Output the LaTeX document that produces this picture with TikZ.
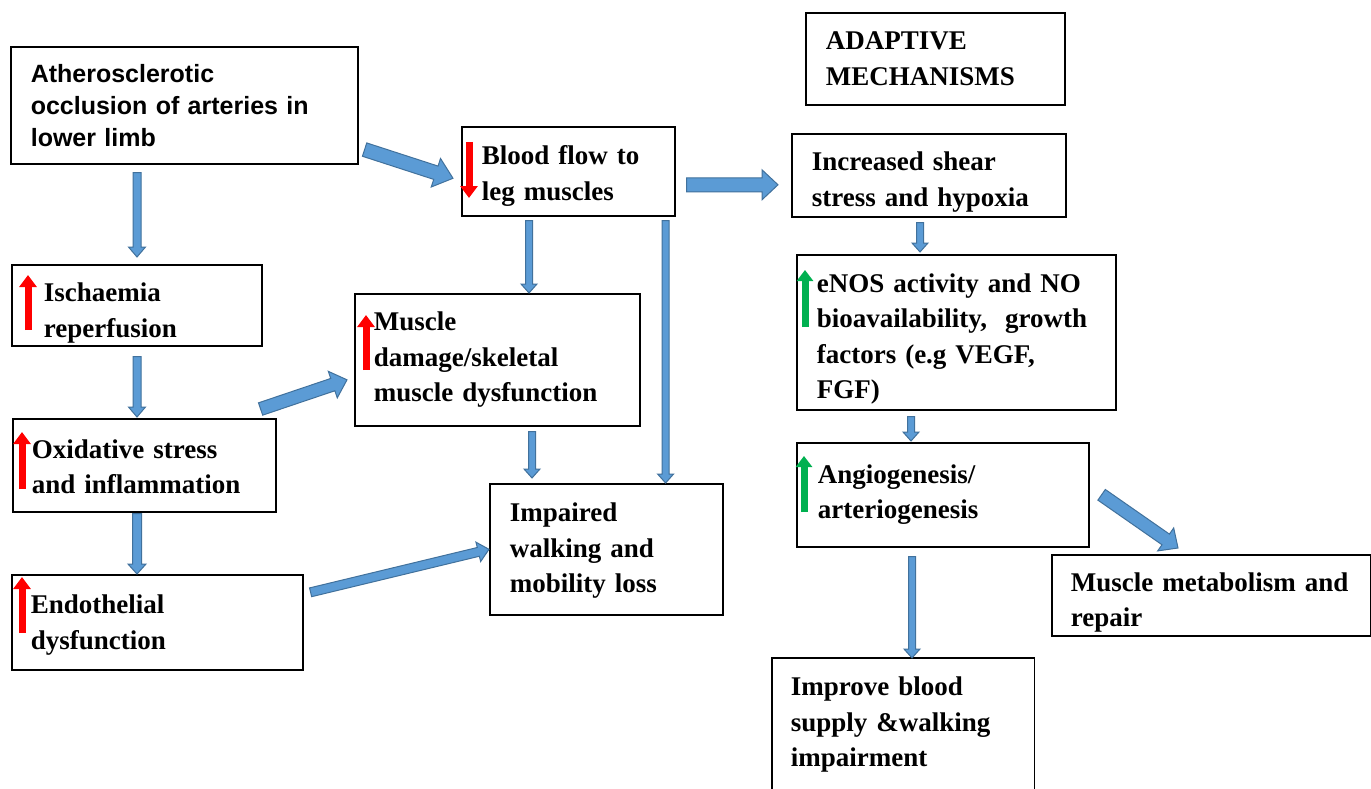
\documentclass[tikz,border=0pt]{standalone}
\usepackage{fontspec}
\setmainfont{Liberation Serif}
\newfontfamily\arialfont{Liberation Sans}
\usetikzlibrary{calc,arrows.meta}
\definecolor{arrfill}{HTML}{5B9BD5}
\definecolor{arrline}{HTML}{41719C}
\definecolor{upred}{HTML}{FF0000}
\definecolor{upgreen}{HTML}{00B050}
% #1 start, #2 end, #3 shaft half width, #4 head half width, #5 head length
\newcommand\fatarrow[5]{%
  \coordinate (fa1) at (#1);
  \coordinate (fa2) at (#2);
  \coordinate (fab) at ($(fa2)!#5!(fa1)$);
  \draw[blockarrow] ($(fa1)!#3!90:(fa2)$) -- ($(fab)!#3!90:(fa2)$) -- ($(fab)!#4!90:(fa2)$) -- (fa2)
     -- ($(fab)!#4!-90:(fa2)$) -- ($(fab)!#3!-90:(fa2)$) -- ($(fa1)!#3!-90:(fa2)$) -- cycle;
}
% invisible strut that lowers a centred text block
\newcommand\lowerby[1]{\rule{0pt}{#1}}
\begin{document}
\begin{tikzpicture}[x=1pt,y=-1pt,
  box/.style={draw=black, line width=1.6pt, rectangle, anchor=north west, align=left,
    font=\bfseries\fontsize{27}{35.5}\selectfont, inner ysep=0pt},
  blockarrow/.style={fill=arrfill, draw=arrline, line width=1pt, line join=miter},
  redup/.style={draw=upred, line width=7pt, -{Triangle[width=17pt,length=12pt]}},
  greenup/.style={draw=upgreen, line width=7pt, -{Triangle[width=16pt,length=11pt]}}
]
\fill[white] (0,0) rectangle (1371,789);
\useasboundingbox (0,0) rectangle (1371,789);

% left column
\node[box, font=\arialfont\bfseries\fontsize{25}{32}\selectfont, minimum width=347pt, minimum height=117pt, text width=307pt, inner xsep=20pt] (athero) at (10,46)
  {Atherosclerotic\\occlusion of arteries in\\lower limb};
\node[box, minimum width=250pt, minimum height=81pt, text width=186pt, inner xsep=32pt] (isch) at (11,264)
  {\lowerby{34pt}Ischaemia\\reperfusion};
\node[box, minimum width=263pt, minimum height=93pt, text width=225pt, inner xsep=19pt] (oxid) at (12,418)
  {\lowerby{22pt}Oxidative stress\\and inflammation};
\node[box, minimum width=291pt, minimum height=95pt, text width=253pt, inner xsep=19pt] (endo) at (11,574)
  {\lowerby{24pt}Endothelial\\dysfunction};

% middle column
\node[box, minimum width=213pt, minimum height=89pt, text width=173pt, inner xsep=20pt] (blood) at (461,126)
  {\lowerby{28pt}Blood flow to\\leg muscles};
\node[box, minimum width=285pt, minimum height=132pt, text width=247pt, inner xsep=19pt] (mdmg) at (354,293)
  {Muscle\\damage/skeletal\\muscle dysfunction};
\node[box, minimum width=233pt, minimum height=131pt, text width=193pt, inner xsep=20pt] (impair) at (489,483)
  {\lowerby{22pt}Impaired\\walking and\\mobility loss};

% right column
\node[box, minimum width=259pt, minimum height=92pt, text width=219pt, inner xsep=20pt] (adapt) at (805,12)
  {ADAPTIVE\\MECHANISMS};
\node[box, minimum width=274pt, minimum height=83pt, text width=234pt, inner xsep=20pt] (shear) at (791,133)
  {\lowerby{32pt}Increased shear\\stress and hypoxia};
\node[box, minimum width=319pt, minimum height=155pt, text width=279pt, inner xsep=20pt] (enos) at (796,254)
  {\lowerby{32pt}eNOS activity and NO\\bioavailability,~ growth\\factors (e.g VEGF,\\FGF)};
\node[box, minimum width=292pt, minimum height=104pt, text width=250pt, inner xsep=21pt] (angio) at (796,442)
  {Angiogenesis/\\arteriogenesis};
\node[box, minimum width=319pt, minimum height=81pt, text width=281pt, inner xsep=19pt] (metab) at (1051,554)
  {\lowerby{33pt}Muscle metabolism and\\repair};
\node[box, draw=none, minimum width=261pt, minimum height=131pt, text width=225pt, inner xsep=18pt] (improve) at (772,658)
  {\lowerby{20pt}Improve blood\\supply \&walking\\impairment};
\draw[line width=1.6pt] ($(improve.south west)+(0,2)$) -- (improve.north west) -- (improve.north east) -- ($(improve.south east)+(0,2)$);

% block arrows (connectors)
\fatarrow{$(athero.south east)+(6,-15)$}{$(blood.west)+(-8,7)$}{7pt}{15pt}{18pt}
\fatarrow{$(athero.south west)+(127,8)$}{$(isch.north west)+(126,-7)$}{4pt}{8.5pt}{10pt}
\fatarrow{$(isch.south west)+(126,10)$}{$(oxid.north west)+(125,-1)$}{4pt}{8.5pt}{10pt}
\fatarrow{$(oxid.south west)+(125,1)$}{$(endo.north west)+(126,0)$}{4.5pt}{9pt}{10pt}
\fatarrow{$(oxid.north east)+(-16,-9)$}{$(mdmg.west)+(-7,20)$}{6.5pt}{14pt}{15pt}
\fatarrow{$(endo.east)+(7,-30)$}{$(impair.west)$}{4.5pt}{10pt}{11pt}
\fatarrow{$(blood.south west)+(68,4)$}{$(mdmg.north west)+(175,0)$}{3.5pt}{8pt}{9pt}
\fatarrow{$(blood.south east)+(-10,4)$}{$(impair.north east)+(-58,0)$}{3.5pt}{8pt}{9pt}
\fatarrow{$(mdmg.south west)+(178,5)$}{$(impair.north west)+(43,-5)$}{3.5pt}{8pt}{9pt}
\fatarrow{$(blood.east)+(11,13.5)$}{$(shear.west)+(-13,9.5)$}{7pt}{15pt}{16pt}
\fatarrow{$(shear.south west)+(129,5)$}{$(enos.north west)+(124,-2)$}{3.5pt}{8pt}{9pt}
\fatarrow{$(enos.south west)+(115,6)$}{$(angio.north west)+(115,-1)$}{3.5pt}{8pt}{9pt}
\fatarrow{$(angio.south west)+(116,9)$}{$(improve.north west)+(140,0)$}{3.5pt}{8pt}{9pt}
\fatarrow{$(angio.east)+(12,0)$}{$(metab.north west)+(127,-6)$}{6.5pt}{14pt}{15pt}

% small up/down indicators
\draw[redup] ($(blood.north west)+(8,16)$) -- ($(blood.north west)+(8,72)$);
\draw[redup] ($(isch.north west)+(17,66)$) -- ($(isch.north west)+(17,11)$);
\draw[redup] ($(mdmg.north west)+(12,77)$) -- ($(mdmg.north west)+(12,22)$);
\draw[redup] ($(oxid.north west)+(10,71)$) -- ($(oxid.north west)+(10,14)$);
\draw[redup] ($(endo.north west)+(11,59)$) -- ($(endo.north west)+(11,3)$);
\draw[greenup] ($(enos.north west)+(9,73)$) -- ($(enos.north west)+(9,16)$);
\draw[greenup] ($(angio.north west)+(8,70)$) -- ($(angio.north west)+(8,14)$);
\end{tikzpicture}
\end{document}
